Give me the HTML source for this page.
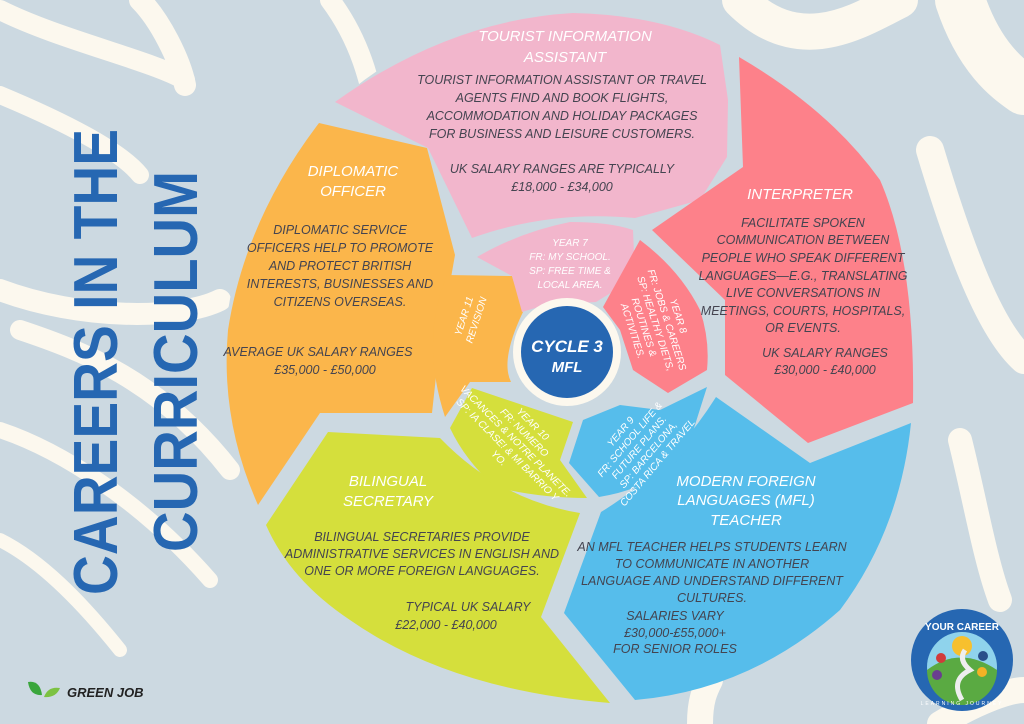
<!DOCTYPE html>
<html><head><meta charset="utf-8"><style>
html,body{margin:0;padding:0;width:1024px;height:724px;overflow:hidden;background:#ccd9e1}
svg{display:block}
text{font-family:"Liberation Sans",sans-serif;font-style:italic}
.w{fill:#fff;font-size:15px}
.d{fill:#444450;font-size:12.5px}
.s{fill:#fff;font-size:10px}
</style></head><body>
<svg width="1024" height="724" viewBox="0 0 1024 724" xmlns="http://www.w3.org/2000/svg">
<rect width="1024" height="724" fill="#ccd9e1"/>
<g fill="none" stroke="#fcf8ee" stroke-linecap="round">
<path d="M0 10 C60 40 150 60 185 80" stroke-width="20"/>
<path d="M0 95 C60 120 120 150 140 175" stroke-width="18"/>
<path d="M0 290 C80 320 180 320 220 300" stroke-width="22"/>
<path d="M20 330 C80 350 160 380 230 470" stroke-width="20"/>
<path d="M0 430 C60 450 140 500 210 580" stroke-width="16"/>
<path d="M0 540 C40 560 80 600 120 650" stroke-width="14"/>
<path d="M140 0 C160 20 180 60 185 85" stroke-width="22"/>
<path d="M740 0 C800 60 860 20 900 0" stroke-width="36"/>
<path d="M960 0 C980 60 1010 80 1024 90" stroke-width="50"/>
<path d="M930 150 C960 250 990 330 1024 360" stroke-width="28"/>
<path d="M960 440 C975 500 985 560 1000 600" stroke-width="24"/>
<path d="M380 130 C370 80 360 40 330 0" stroke-width="20"/>
<path d="M940 724 C980 700 1010 690 1024 690" stroke-width="26"/>
<path d="M700 724 C700 700 705 690 710 680" stroke-width="26"/>
</g>
<circle cx="570" cy="357" r="345" fill="#ccd9e1"/>
<path d="M335 102 Q450 20 573 13 Q660 15 720 45 L728 100 L727 157 L700 200 L635 218 Q550 210 472 238 L428 148 Z" fill="#f2b6cc"/>
<path d="M319 123 L427 148 L455 255 L440 340 L432 413 L320 413 L258 505 Q220 420 228 330 Q245 220 319 123 Z" fill="#fbb64b"/>
<path d="M739 57 Q830 110 880 180 Q915 260 913 403 L808 443 L725 375 L725 300 L652 230 L743 167 Z" fill="#fd818a"/>
<path d="M328 432 L440 438 Q500 500 580 513 L541 617 L610 703 Q450 690 350 620 Q290 580 266 525 Z" fill="#d5df3c"/>
<path d="M601 512 Q670 470 716 397 L810 463 L911 423 Q900 530 840 610 Q750 690 635 700 L564 613 Z" fill="#56bdeb"/>
<path d="M447 275 L512 276 L523 312 Q500 360 511 382 L470 382 L445 417 Q420 340 447 275 Z" fill="#fbb64b"/>
<path d="M477 257 Q520 232 570 222 Q610 222 633 230 L635 278 L596 302 L545 305 L522 312 L512 276 Z" fill="#f2b6cc"/>
<path d="M640 240 Q680 270 700 310 Q710 340 707 370 L668 393 L633 370 L620 330 L603 307 Z" fill="#fd818a"/>
<path d="M707 387 L660 410 L620 405 L583 420 L569 463 L599 497 Q630 492 651 480 Q675 467 688 447 Z" fill="#56bdeb"/>
<path d="M472 388 L573 422 L560 460 L587 498 Q540 498 495 487 Q465 460 450 428 Z" fill="#d5df3c"/>
<circle cx="567" cy="352" r="54" fill="#fcf8ee"/>
<circle cx="567" cy="352" r="46" fill="#2667b2"/>
<text x="567" y="352" text-anchor="middle" style="font-weight:bold;font-size:17px;fill:#fff">CYCLE 3</text>
<text x="567" y="372" text-anchor="middle" style="font-weight:bold;font-size:15px;fill:#fff">MFL</text>
<g text-anchor="middle">
<text class="w" x="565" y="41">TOURIST INFORMATION</text>
<text class="w" x="565" y="62">ASSISTANT</text>
<text class="d" x="562" y="84">TOURIST INFORMATION ASSISTANT OR TRAVEL</text>
<text class="d" x="562" y="102">AGENTS FIND AND BOOK FLIGHTS,</text>
<text class="d" x="562" y="120">ACCOMMODATION AND HOLIDAY PACKAGES</text>
<text class="d" x="562" y="138">FOR BUSINESS AND LEISURE CUSTOMERS.</text>
<text class="d" x="562" y="173">UK SALARY RANGES ARE TYPICALLY</text>
<text class="d" x="562" y="191">£18,000 - £34,000</text>
<text class="w" x="353" y="176">DIPLOMATIC</text>
<text class="w" x="353" y="196">OFFICER</text>
<text class="d" x="340" y="234">DIPLOMATIC SERVICE</text>
<text class="d" x="340" y="252">OFFICERS HELP TO PROMOTE</text>
<text class="d" x="340" y="270">AND PROTECT BRITISH</text>
<text class="d" x="340" y="288">INTERESTS, BUSINESSES AND</text>
<text class="d" x="340" y="306">CITIZENS OVERSEAS.</text>
<text class="d" x="318" y="356">AVERAGE UK SALARY RANGES</text>
<text class="d" x="325" y="374">£35,000 - £50,000</text>
<text class="w" x="800" y="199">INTERPRETER</text>
<text class="d" x="803" y="227">FACILITATE SPOKEN</text>
<text class="d" x="803" y="244">COMMUNICATION BETWEEN</text>
<text class="d" x="803" y="262">PEOPLE WHO SPEAK DIFFERENT</text>
<text class="d" x="803" y="280">LANGUAGES—E.G., TRANSLATING</text>
<text class="d" x="803" y="297">LIVE CONVERSATIONS IN</text>
<text class="d" x="803" y="315">MEETINGS, COURTS, HOSPITALS,</text>
<text class="d" x="803" y="332">OR EVENTS.</text>
<text class="d" x="825" y="357">UK SALARY RANGES</text>
<text class="d" x="825" y="374">£30,000 - £40,000</text>
<text class="w" x="388" y="486">BILINGUAL</text>
<text class="w" x="388" y="506">SECRETARY</text>
<text class="d" x="422" y="541">BILINGUAL SECRETARIES PROVIDE</text>
<text class="d" x="422" y="558">ADMINISTRATIVE SERVICES IN ENGLISH AND</text>
<text class="d" x="422" y="575">ONE OR MORE FOREIGN LANGUAGES.</text>
<text class="d" x="468" y="611">TYPICAL UK SALARY</text>
<text class="d" x="446" y="629">£22,000 - £40,000</text>
<text class="w" x="746" y="486">MODERN FOREIGN</text>
<text class="w" x="746" y="505">LANGUAGES (MFL)</text>
<text class="w" x="746" y="525">TEACHER</text>
<text class="d" x="712" y="551">AN MFL TEACHER HELPS STUDENTS LEARN</text>
<text class="d" x="712" y="568">TO COMMUNICATE IN ANOTHER</text>
<text class="d" x="712" y="585">LANGUAGE AND UNDERSTAND DIFFERENT</text>
<text class="d" x="712" y="602">CULTURES.</text>
<text class="d" x="675" y="620">SALARIES VARY</text>
<text class="d" x="675" y="637">£30,000-£55,000+</text>
<text class="d" x="675" y="653">FOR SENIOR ROLES</text>
<text class="s" x="570" y="246">YEAR 7</text>
<text class="s" x="570" y="260">FR: MY SCHOOL.</text>
<text class="s" x="570" y="274">SP: FREE TIME &amp;</text>
<text class="s" x="570" y="288">LOCAL AREA.</text>
<g transform="translate(470,318) rotate(-72)"><text class="s" x="0" y="-3">YEAR 11</text><text class="s" x="0" y="10">REVISION</text></g>
<g transform="translate(660,322) rotate(72)"><text class="s" x="0" y="-16">YEAR 8</text><text class="s" x="0" y="-4">FR: JOBS &amp; CAREERS</text><text class="s" x="0" y="8">SP: HEALTHY DIETS,</text><text class="s" x="0" y="20">ROUTINES &amp;</text><text class="s" x="0" y="32">ACTIVITIES.</text></g>
<g transform="translate(640,448) rotate(-50)"><text class="s" x="0" y="-22">YEAR 9</text><text class="s" x="0" y="-10">FR: SCHOOL LIFE &amp;</text><text class="s" x="0" y="2">FUTURE PLANS.</text><text class="s" x="0" y="14">SP: BARCELONA,</text><text class="s" x="0" y="26">COSTA RICA &amp; TRAVEL</text></g>
<g transform="translate(515,442) rotate(45)"><text class="s" x="0" y="-22">YEAR 10</text><text class="s" x="0" y="-10">FR: NUMERO</text><text class="s" x="0" y="2">VACANCES &amp; NOTRE PLANETE.</text><text class="s" x="0" y="14">SP: IA CLASE! &amp; MI BARRIO Y</text><text class="s" x="0" y="26">YO.</text></g>
</g>
<g transform="translate(117,362) rotate(-90)" style="font-family:'Liberation Sans',sans-serif;font-weight:bold;font-size:62px;fill:#2667b2">
<text x="-233" y="0" textLength="466" lengthAdjust="spacingAndGlyphs" style="font-style:normal">CAREERS IN THE</text>
<text x="-190" y="80" textLength="381" lengthAdjust="spacingAndGlyphs" style="font-style:normal">CURRICULUM</text>
</g>
<path d="M28 682 Q40 680 42 695 Q30 696 28 682Z" fill="#3aa63c"/>
<path d="M44 697 Q48 686 60 688 Q56 698 44 697Z" fill="#7cc242"/>
<text x="67" y="697" style="font-size:13px;fill:#222;font-weight:bold">GREEN JOB</text>
<circle cx="962" cy="660" r="51" fill="#2667b2"/>
<circle cx="962" cy="667" r="35" fill="#8fd3ec"/>
<path d="M927 670 Q960 645 997 670 A35 35 0 0 1 927 670Z" fill="#5aaa42"/>
<circle cx="962" cy="646" r="10" fill="#f7c02e"/>
<path d="M962 700 Q950 680 970 670 Q958 660 965 650" stroke="#eee" stroke-width="5" fill="none"/>
<circle cx="941" cy="658" r="5" fill="#d13b3b"/><circle cx="983" cy="656" r="5" fill="#2a4f8a"/><circle cx="982" cy="672" r="5" fill="#f3b225"/><circle cx="937" cy="675" r="5" fill="#6a3d8f"/>
<text x="962" y="630" text-anchor="middle" style="font-size:10px;fill:#fff;font-weight:bold;font-style:normal">YOUR CAREER</text>
<text x="962" y="705" text-anchor="middle" style="font-size:5px;fill:#fff;font-style:normal;letter-spacing:2px">LEARNING JOURNEY</text>
</svg>
</body></html>
